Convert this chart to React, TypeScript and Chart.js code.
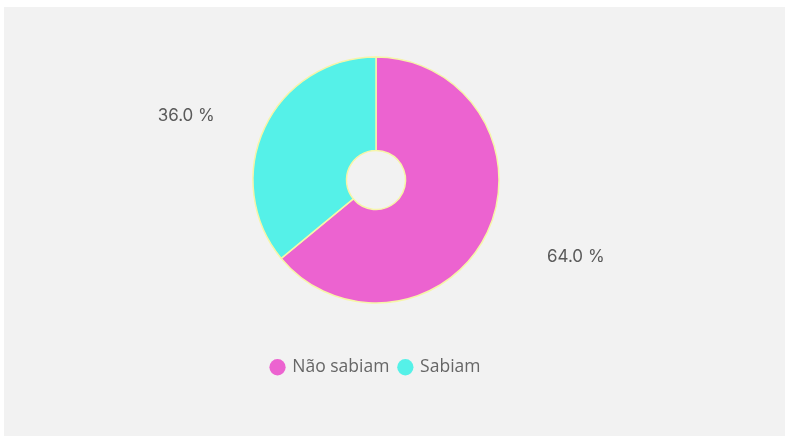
import React, { useEffect, useRef } from "react";
import { Chart, registerables } from "chart.js";

Chart.register(...registerables);

const categories = ["Não sabiam", "Sabiam"];
const values = [64, 36];
const colors = ["#ec63d0", "#55f1e8"];

const outsideLabels = {
  id: "outsideLabels",
  afterDatasetsDraw(chart: any) {
    const meta = chart.getDatasetMeta(0);
    const data = chart.data.datasets[0].data as number[];
    const total = data.reduce((a, b) => a + b, 0);
    const ctx = chart.ctx;
    ctx.save();
    ctx.font = "17px Inter, 'Noto Sans', sans-serif";
    ctx.fillStyle = "#5a5a5a";
    ctx.textAlign = "center";
    ctx.textBaseline = "middle";
    meta.data.forEach((arc: any, i: number) => {
      const p = arc.getProps(["x", "y", "startAngle", "endAngle", "outerRadius"], true);
      const mid = (p.startAngle + p.endAngle) / 2;
      const x = p.x + Math.cos(mid) * p.outerRadius * 1.75 + 5;
      const y = p.y + Math.sin(mid) * p.outerRadius * 1.35 + 6.5;
      ctx.fillText(((data[i] / total) * 100).toFixed(1) + " %", x, y);
    });
    ctx.restore();
  },
};

export default function App() {
  const ref = useRef<HTMLCanvasElement>(null);
  useEffect(() => {
    if (!ref.current) return;
    const chart = new Chart(ref.current, {
      type: "doughnut",
      data: {
        labels: categories,
        datasets: [
          {
            data: values,
            backgroundColor: colors,
            borderColor: "#f6f5a8",
            borderWidth: 1.5,
          },
        ],
      },
      options: {
        animation: false,
        responsive: true,
        maintainAspectRatio: false,
        radius: 123,
        cutout: "24%",
        layout: { padding: { left: 0, right: 37, top: 4.5, bottom: 50 } },
        plugins: {
          tooltip: { enabled: false },
          legend: {
            position: "bottom",
            labels: {
              usePointStyle: true,
              pointStyle: "circle",
              boxWidth: 12,
              boxHeight: 11.5,
              padding: 10,
              color: "#666666",
              font: { size: 17.5, family: "'Open Sans', 'Noto Sans', sans-serif" },
              generateLabels(c: any) {
                const items = Chart.overrides.doughnut.plugins.legend.labels.generateLabels(c);
                return items.map((it: any) => ({ ...it, lineWidth: 0, strokeStyle: "rgba(0,0,0,0)" }));
              },
            },
          },
        },
      } as any,
      plugins: [outsideLabels],
    });
    return () => chart.destroy();
  }, []);
  return (
    <div style={{ position: "fixed", left: 0, top: 0, width: 785, height: 438, background: "#ffffff" }}>
      <div style={{ position: "absolute", left: 4, top: 7, width: 781, height: 429, background: "#f2f2f2" }}>
        <canvas ref={ref} />
      </div>
    </div>
  );
}
